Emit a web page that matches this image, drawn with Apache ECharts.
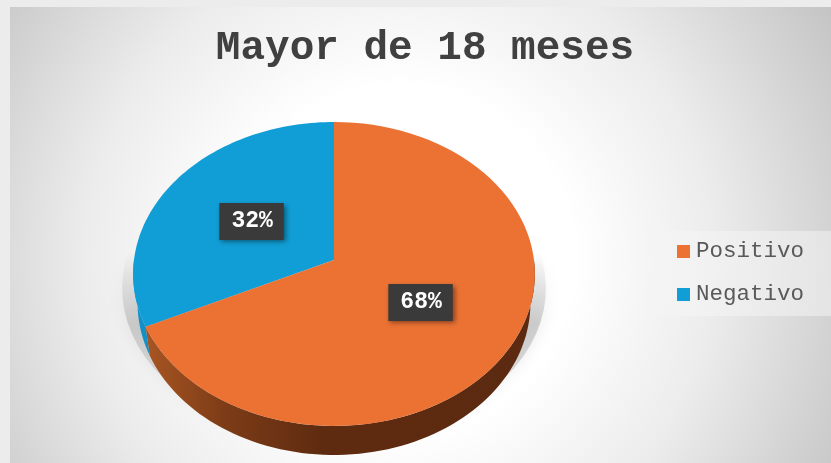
<!DOCTYPE html>
<html>
<head>
<meta charset="utf-8">
<title>Mayor de 18 meses</title>
<style>
  html, body { margin: 0; padding: 0; background: #ececec; }
  #chart { width: 831px; height: 463px; }
</style>
<script src="https://cdn.jsdelivr.net/npm/echarts@6/dist/echarts.min.js"></script>
</head>
<body>
<div id="chart"></div>
<script>
var categories = ['Positivo', 'Negativo'];
var values = [68, 32];
var faceColors = ['#ec7233', '#119ed6'];

var chart = echarts.init(document.getElementById('chart'), null, { renderer: 'canvas' });
var total = values.reduce(function (a, b) { return a + b; }, 0);

// pie seen from above: circle -> slight perspective, near edge looks bigger
var tipX = 334, tipY = 260, radX = 200, radY = 150.7, persp = 0.092, depth = 29;

function project(angle, r) {
  var u = Math.sin(angle) * r, v = -Math.cos(angle) * r;
  var w = 1 - persp * v;
  return [tipX + radX * u / w, tipY + radY * v / w];
}

function rim(from, to, dy, sx) {
  var pts = [], n = 80;
  for (var i = 0; i <= n; i++) {
    var p = project(from + (to - from) * i / n, 1);
    pts.push([tipX + (p[0] - tipX) * (sx || 1), p[1] + (dy || 0)]);
  }
  return pts;
}

function sliceItem(index) {
  return function () {
    var before = 0;
    for (var i = 0; i < index; i++) before += values[i];
    var a0 = before / total * Math.PI * 2;
    var a1 = (before + values[index]) / total * Math.PI * 2;
    var children = [];

    // visible side wall, lower rim pulled in a bit so it tapers at the sides
    var s0 = Math.max(a0, Math.PI / 2), s1 = Math.min(a1, Math.PI * 1.5);
    if (s1 > s0) {
      var wall = rim(s0, s1, 0).concat(rim(s0, s1, depth, 0.978).reverse());
      children.push({
        type: 'polygon',
        shape: { points: wall },
        style: {
          fill: index === 0 ? {
            type: 'linear', x: 1, y: 0, x2: 0, y2: 0,
            colorStops: [
              { offset: 0, color: '#5b2a10' },
              { offset: 0.55, color: '#5f2b10' },
              { offset: 0.8, color: '#7d3c17' },
              { offset: 1, color: '#a85522' }
            ]
          } : '#1390c8'
        }
      });
    }

    var face = [[tipX, tipY]].concat(rim(a0, a1, 0));
    children.push({
      type: 'polygon',
      shape: { points: face },
      style: { fill: faceColors[index] }
    });

    var mid = project((a0 + a1) / 2, 0.5);
    children.push({
      type: 'text',
      z2: 10,
      style: {
        text: values[index] + '%',
        x: mid[0],
        y: mid[1] + 1,
        align: 'center',
        verticalAlign: 'middle',
        fill: '#ffffff',
        font: 'bold 23px "Liberation Mono", monospace',
        backgroundColor: '#3a3a3a',
        padding: [8, 11, 6, 12],
        shadowColor: 'rgba(0,0,0,0.45)',
        shadowBlur: 5,
        shadowOffsetX: 2,
        shadowOffsetY: 2
      }
    });
    return { type: 'group', children: children };
  };
}

function shadowItem() {
  var pts = rim(0, Math.PI * 2, 14, 1.055);
  return {
    type: 'polygon',
    shape: { points: pts },
    style: {
      fill: {
        type: 'linear', x: 0, y: 0, x2: 0, y2: 1,
        colorStops: [
          { offset: 0, color: 'rgba(190,190,190,0)' },
          { offset: 0.38, color: 'rgba(190,190,190,0)' },
          { offset: 0.62, color: 'rgba(190,190,190,0.75)' },
          { offset: 1, color: 'rgba(210,210,210,0.5)' }
        ]
      },
      shadowColor: 'rgba(190,190,190,0.45)',
      shadowBlur: 16
    }
  };
}

var series = [{
  type: 'custom',
  name: 'sombra',
  coordinateSystem: 'none',
  silent: true,
  z: 1,
  data: [0],
  renderItem: shadowItem
}];
categories.forEach(function (name, i) {
  series.push({
    type: 'custom',
    name: name,
    coordinateSystem: 'none',
    z: i === 0 ? 3 : 2,
    itemStyle: { color: faceColors[i] },
    data: [values[i]],
    renderItem: sliceItem(i)
  });
});

chart.setOption({
  animation: false,
  title: {
    text: 'Mayor de 18 meses',
    left: 420,
    top: 23,
    textAlign: 'center',
    textStyle: {
      color: '#404040',
      fontFamily: '"Liberation Mono", monospace',
      fontWeight: 'bold',
      fontSize: 41
    }
  },
  legend: {
    data: categories,
    orient: 'vertical',
    left: 677,
    top: 240,
    padding: 0,
    itemWidth: 13,
    itemHeight: 13,
    itemGap: 20,
    icon: 'rect',
    textStyle: {
      color: '#595959',
      fontFamily: '"Liberation Mono", monospace',
      fontSize: 22.5,
      padding: [0, 0, 2, 1]
    }
  },
  graphic: [{
    type: 'rect',
    z: -10,
    silent: true,
    shape: { x: 10, y: 7, width: 821, height: 456 },
    style: {
      fill: {
        type: 'radial', x: 400, y: 260, r: 510, global: true,
        colorStops: [
          { offset: 0, color: '#ffffff' },
          { offset: 0.34, color: '#ffffff' },
          { offset: 0.62, color: '#ececec' },
          { offset: 1, color: '#c2c2c2' }
        ]
      }
    }
  }, {
    // lighter band behind the legend, fades out to the left
    type: 'rect',
    z: -9,
    silent: true,
    shape: { x: 640, y: 231, width: 191, height: 85 },
    style: {
      fill: {
        type: 'linear', x: 0, y: 0, x2: 1, y2: 0,
        colorStops: [
          { offset: 0, color: 'rgba(245,245,245,0)' },
          { offset: 0.25, color: 'rgba(245,245,245,0.6)' },
          { offset: 1, color: 'rgba(240,240,240,0.6)' }
        ]
      }
    }
  }],
  series: series
});
</script>
</body>
</html>
